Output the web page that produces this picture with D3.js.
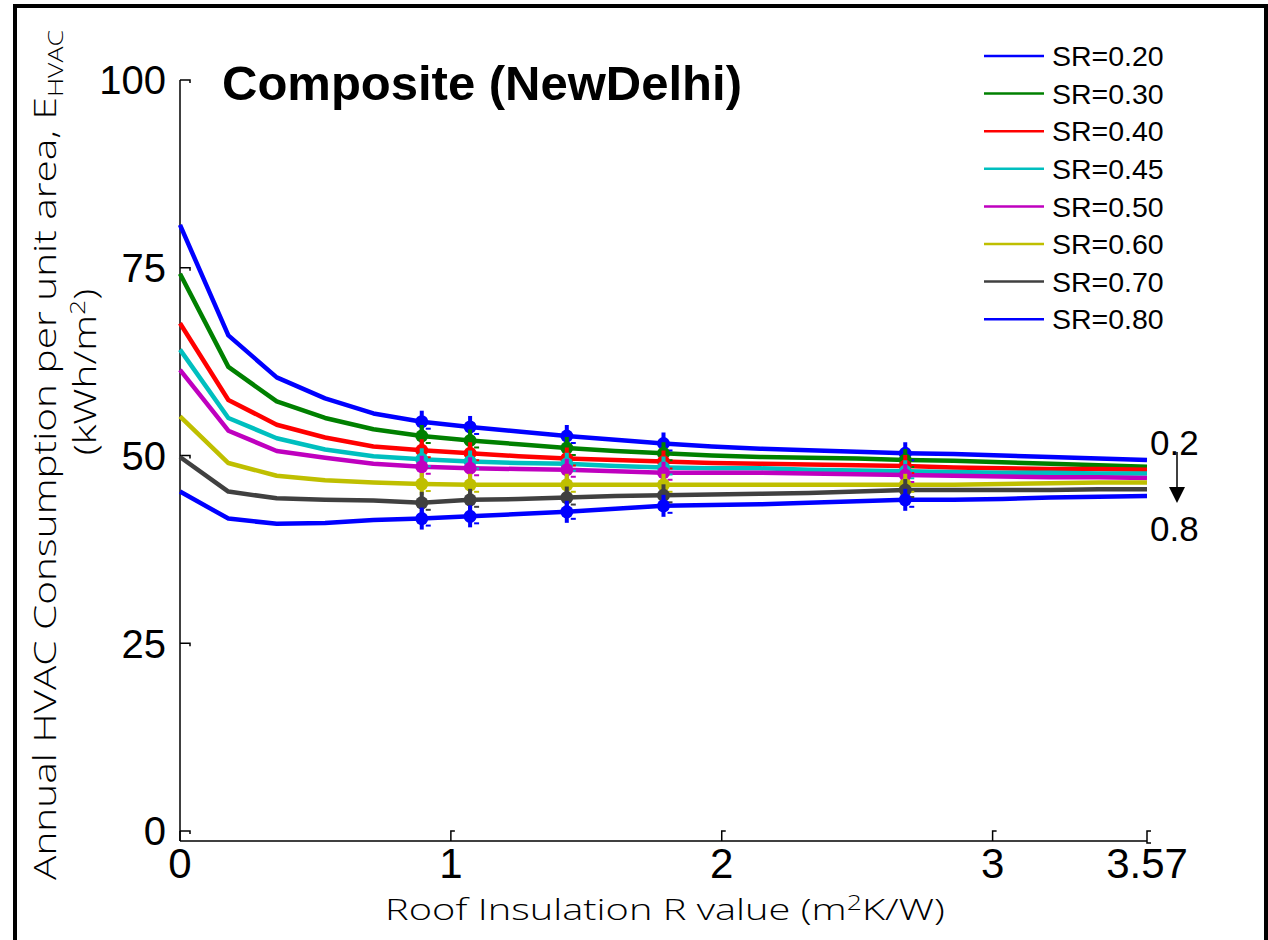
<!DOCTYPE html>
<html>
<head>
<meta charset="utf-8">
<script src="https://cdn.jsdelivr.net/npm/d3@7"></script>
<style>
body{margin:0;background:#fff;}
</style>
</head>
<body>
<script>
// roof insulation R values (m2K/W)
var rValues = [0, 0.1785, 0.357, 0.5355, 0.714, 0.8925, 1.071, 1.2495, 1.428, 1.6065, 1.785,
               1.9635, 2.142, 2.3205, 2.499, 2.6775, 2.856, 3.0345, 3.213, 3.3915, 3.57];

var seriesNames = ["SR=0.20","SR=0.30","SR=0.40","SR=0.45","SR=0.50","SR=0.60","SR=0.70","SR=0.80"];
var seriesColors = ["#0000ff","#008000","#ff0000","#00bfbf","#bf00bf","#bfbf00","#404040","#0000ff"];

var sr20 = [80.7, 66.0, 60.4, 57.6, 55.6, 54.5, 53.8, 53.2, 52.6, 52.1, 51.6, 51.2, 50.9, 50.7, 50.5, 50.3, 50.2, 50.0, 49.8, 49.6, 49.4];
var sr30 = [74.2, 61.8, 57.2, 55.0, 53.5, 52.6, 52.0, 51.5, 51.0, 50.6, 50.3, 50.0, 49.8, 49.7, 49.6, 49.4, 49.3, 49.1, 48.9, 48.7, 48.5];
var sr40 = [67.6, 57.4, 54.1, 52.4, 51.2, 50.7, 50.3, 49.9, 49.6, 49.4, 49.2, 49.0, 48.9, 48.8, 48.7, 48.6, 48.4, 48.3, 48.2, 48.2, 48.1];
var sr45 = [64.1, 55.0, 52.3, 50.8, 49.9, 49.5, 49.2, 49.0, 48.9, 48.6, 48.4, 48.3, 48.3, 48.1, 48.0, 47.9, 47.8, 47.7, 47.7, 47.6, 47.6];
var sr50 = [61.4, 53.3, 50.6, 49.7, 48.9, 48.5, 48.3, 48.2, 48.1, 47.9, 47.7, 47.7, 47.7, 47.6, 47.5, 47.4, 47.3, 47.2, 47.1, 47.1, 47.0];
var sr60 = [55.2, 49.0, 47.3, 46.7, 46.4, 46.2, 46.1, 46.1, 46.1, 46.1, 46.1, 46.1, 46.1, 46.1, 46.1, 46.1, 46.1, 46.2, 46.3, 46.4, 46.4];
var sr70 = [49.8, 45.2, 44.3, 44.1, 44.0, 43.7, 44.1, 44.2, 44.4, 44.6, 44.7, 44.8, 44.9, 45.0, 45.2, 45.4, 45.4, 45.4, 45.4, 45.5, 45.5];
var sr80 = [45.2, 41.6, 40.9, 41.0, 41.4, 41.6, 41.9, 42.2, 42.5, 42.9, 43.3, 43.4, 43.5, 43.7, 43.9, 44.1, 44.1, 44.2, 44.4, 44.5, 44.6];

// points that carry an error-bar marker
var markerIdx = [5, 6, 8, 10, 15];

var xTicks = [0, 1, 2, 3, 3.57];
var xTickLabels = ["0", "1", "2", "3", "3.57"];
var yTicks = [0, 25, 50, 75, 100];

var allValues = [sr20, sr30, sr40, sr45, sr50, sr60, sr70, sr80];
var series = seriesNames.map(function(n, i){
    return {name: n, color: seriesColors[i], values: allValues[i]};
});

var w = 1268, h = 940;
var svg = d3.select("body").append("svg")
    .attr("width", w)
    .attr("height", h);

var x = d3.scaleLinear().domain([0, 3.57]).range([180, 1147]);
var y = d3.scaleLinear().domain([0, 100]).range([831, 80]);

// figure frame
svg.append("path")
    .attr("d", "M15,945V6H1266V945")
    .attr("fill", "none")
    .attr("stroke", "#000")
    .attr("stroke-width", 4);

// axes lines
svg.append("line").attr("x1", 180).attr("x2", 180).attr("y1", 80).attr("y2", 841)
    .attr("stroke", "#000").attr("stroke-width", 1.5);
svg.append("line").attr("x1", 180).attr("x2", 1147).attr("y1", 841).attr("y2", 841)
    .attr("stroke", "#000").attr("stroke-width", 1.5);

// y ticks
svg.selectAll(".ytick")
    .data(yTicks)
    .enter()
    .append("path")
    .attr("class", "ytick")
    .attr("d", function(d){
        var yy = y(d);
        return "M180," + yy + "H190V" + (yy + 3);
    })
    .attr("fill", "none")
    .attr("stroke", "#000")
    .attr("stroke-width", 1.5);

svg.selectAll(".ylab")
    .data(yTicks)
    .enter()
    .append("text")
    .attr("class", "ylab")
    .text(function(d){ return d; })
    .attr("x", 166)
    .attr("y", function(d){ return y(d); })
    .attr("dy", "0.36em")
    .attr("text-anchor", "end")
    .attr("font-family", "Liberation Sans, Arial, sans-serif")
    .attr("font-size", "40px")
    .attr("fill", "#000");

// x ticks
svg.selectAll(".xtick")
    .data(xTicks)
    .enter()
    .append("path")
    .attr("class", "xtick")
    .attr("d", function(d, i){
        var xx = x(d);
        if (i == xTicks.length - 1) {
            return "M" + (xx + 4) + ",831H" + xx + "V843H" + (xx + 4);
        }
        if (i == 0) return "M" + xx + ",831V841";
        return "M" + (xx + 4) + ",831H" + xx + "V841";
    })
    .attr("fill", "none")
    .attr("stroke", "#000")
    .attr("stroke-width", 1.5);

svg.selectAll(".xlab")
    .data(xTicks)
    .enter()
    .append("text")
    .attr("class", "xlab")
    .text(function(d, i){ return xTickLabels[i]; })
    .attr("x", function(d){ return x(d); })
    .attr("y", 878)
    .attr("text-anchor", "middle")
    .attr("font-family", "Liberation Sans, Arial, sans-serif")
    .attr("font-size", "42px")
    .attr("fill", "#000");

// data lines
var line = d3.line()
    .x(function(d, i){ return x(rValues[i]); })
    .y(function(d){ return y(d); });

svg.selectAll(".series")
    .data(series)
    .enter()
    .append("path")
    .attr("class", "series")
    .attr("d", function(d){ return line(d.values); })
    .attr("fill", "none")
    .attr("stroke", function(d){ return d.color; })
    .attr("stroke-width", 4.5)
    .attr("stroke-linejoin", "round");

// markers with error bars
var markerData = [];
series.forEach(function(s){
    markerIdx.forEach(function(k){
        markerData.push({color: s.color, cx: x(rValues[k]), cy: y(s.values[k])});
    });
});

var mk = svg.selectAll(".marker")
    .data(markerData)
    .enter()
    .append("g")
    .attr("class", "marker");

mk.append("line")
    .attr("x1", function(d){ return d.cx; })
    .attr("x2", function(d){ return d.cx; })
    .attr("y1", function(d){ return d.cy - 11; })
    .attr("y2", function(d){ return d.cy + 11; })
    .attr("stroke", function(d){ return d.color; })
    .attr("stroke-width", 4);
mk.append("line")
    .attr("x1", function(d){ return d.cx + 4; })
    .attr("x2", function(d){ return d.cx + 9; })
    .attr("y1", function(d){ return d.cy + 7; })
    .attr("y2", function(d){ return d.cy + 7; })
    .attr("stroke", function(d){ return d.color; })
    .attr("stroke-width", 2);
mk.append("circle")
    .attr("cx", function(d){ return d.cx; })
    .attr("cy", function(d){ return d.cy; })
    .attr("r", 6.5)
    .attr("fill", function(d){ return d.color; });

// title
svg.append("text")
    .text("Composite (NewDelhi)")
    .attr("x", 222)
    .attr("y", 100)
    .attr("font-family", "Liberation Sans, Arial, sans-serif")
    .attr("font-weight", "bold")
    .attr("font-size", "49px")
    .attr("fill", "#000");

// legend
var leg = svg.selectAll(".leg")
    .data(series)
    .enter()
    .append("g")
    .attr("class", "leg")
    .attr("transform", function(d, i){ return "translate(0," + (56 + i * 37.6) + ")"; });
leg.append("line")
    .attr("x1", 984).attr("x2", 1044).attr("y1", 0).attr("y2", 0)
    .attr("stroke", function(d){ return d.color; })
    .attr("stroke-width", 2.5);
leg.append("text")
    .text(function(d){ return d.name; })
    .attr("x", 1052)
    .attr("y", 0)
    .attr("dy", "0.36em")
    .attr("font-family", "Liberation Sans, Arial, sans-serif")
    .attr("font-size", "28.5px")
    .attr("fill", "#000");

// SR arrow annotation
svg.append("text").text("0.2")
    .attr("x", 1150).attr("y", 455)
    .attr("font-family", "Liberation Sans, Arial, sans-serif")
    .attr("font-size", "35px");
svg.append("text").text("0.8")
    .attr("x", 1150).attr("y", 541)
    .attr("font-family", "Liberation Sans, Arial, sans-serif")
    .attr("font-size", "35px");
svg.append("line")
    .attr("x1", 1177).attr("x2", 1177).attr("y1", 452).attr("y2", 490)
    .attr("stroke", "#000").attr("stroke-width", 1.5);
svg.append("path")
    .attr("d", "M1169,487L1185,487L1177,503Z")
    .attr("fill", "#000");

// axis titles
var labelFont = "Open Sans, DejaVu Sans, sans-serif";

var xt = svg.append("text")
    .attr("text-anchor", "middle")
    .attr("font-family", labelFont)
    .attr("font-weight", 300)
    .attr("font-size", "30px")
    .attr("fill", "#000");
xt.append("tspan").text("Roof Insulation R value (m");
xt.append("tspan").text("2").attr("font-size", "20px").attr("dy", -10);
xt.append("tspan").text("K/W)").attr("dy", 10);
var xw = xt.node().getBBox().width;
xt.attr("transform", "translate(665,920) scale(" + (560 / xw) + ",1)");

var yt = svg.append("text")
    .attr("text-anchor", "middle")
    .attr("font-family", labelFont)
    .attr("font-weight", 300)
    .attr("font-size", "32px")
    .attr("fill", "#000");
yt.append("tspan").text("Annual HVAC Consumption per unit area, E");
yt.append("tspan").text("HVAC").attr("font-size", "21px").attr("dy", 7);
var yw = yt.node().getBBox().width;
yt.attr("transform", "translate(56,455) rotate(-90) scale(" + (850 / yw) + ",1)");

var yt2 = svg.append("text")
    .attr("text-anchor", "middle")
    .attr("font-family", labelFont)
    .attr("font-weight", 300)
    .attr("font-size", "32px")
    .attr("fill", "#000");
yt2.append("tspan").text("(kWh/m");
yt2.append("tspan").text("2").attr("font-size", "21px").attr("dy", -11);
yt2.append("tspan").text(")").attr("dy", 11);
yt2.attr("transform", "translate(96,372) rotate(-90) scale(" + (850 / yw) + ",1)");
</script>
</body>
</html>
